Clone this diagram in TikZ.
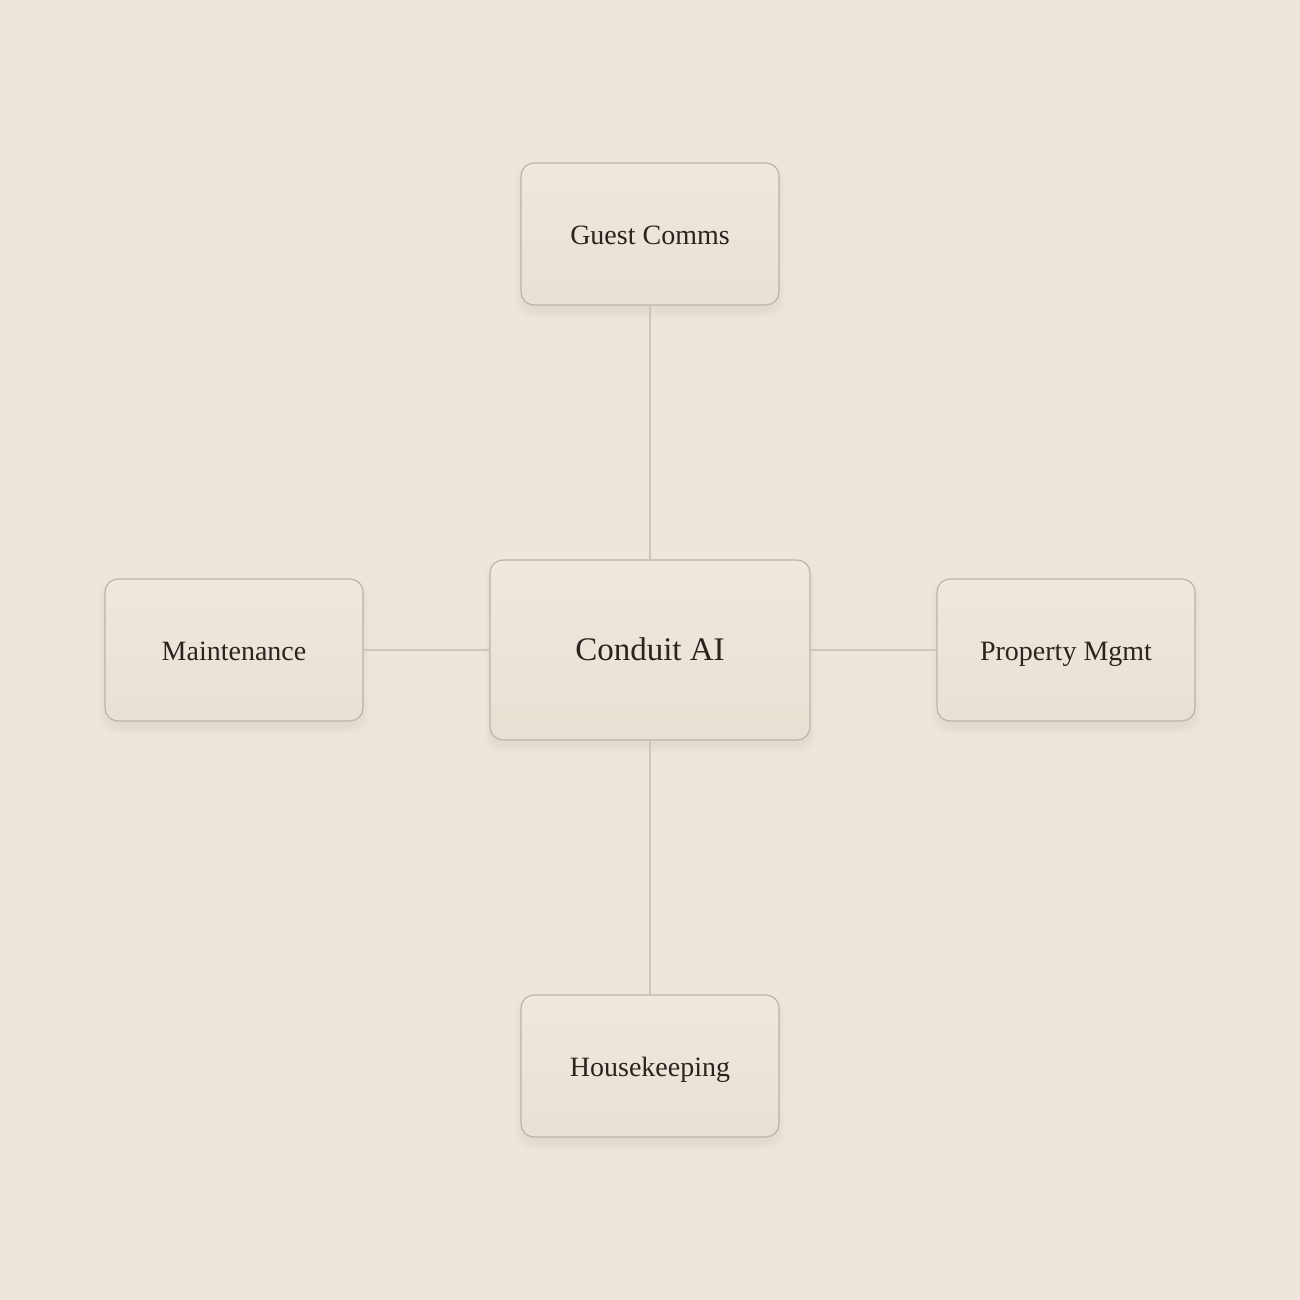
\documentclass[tikz,border=0pt]{standalone}
\usepackage{fontspec}
\setmainfont{Liberation Serif}
\begin{document}
\begin{tikzpicture}[x=0.5pt,y=-0.5pt,
  box/.style={rounded corners=6.5pt, draw=boxline, line width=0.6pt,
    top color=boxtop, bottom color=boxbot, text=ink, inner sep=0pt,
    text height=1.0em, text depth=0pt},
  small/.style={box, minimum width=129pt, minimum height=71pt, font=\fontsize{14}{16}\selectfont},
  big/.style={box, minimum width=160pt, minimum height=90pt, font=\fontsize{16.5}{19}\selectfont},
  link/.style={draw=linkc, line width=0.6pt}
]
\definecolor{bg}{HTML}{EEE5DB}
\definecolor{boxtop}{HTML}{EFE8DE}
\definecolor{boxbot}{HTML}{E9E0D4}
\definecolor{boxline}{HTML}{BDB3A8}
\definecolor{linkc}{HTML}{CFC6BB}
\definecolor{ink}{HTML}{2A241F}
\definecolor{shadowc}{HTML}{C9BEB1}
\fill[bg] (0,0) rectangle (1300,1300);
\useasboundingbox (0,0) rectangle (1300,1300);
% shadows
\foreach \cx/\cy/\w/\h in {650/234/129/71, 234/650/129/71, 1066/650/129/71, 650/1066/129/71, 650/650/160/90}{
  \foreach \s/\o in {6/0.04, 4/0.05, 2/0.07, 0/0.08}{
    \fill[shadowc, opacity=\o, rounded corners=7.5pt]
      (\cx-\w-\s, \cy-\h-\s+7) rectangle (\cx+\w+\s, \cy+\h+\s+7);
  }
}
\node[big]   (core)  at (650,650)  {Conduit AI};
\node[small] (guest) at (650,234)  {Guest Comms};
\node[small] (maint) at (234,650)  {Maintenance};
\node[small] (prop)  at (1066,650) {Property Mgmt};
\node[small] (house) at (650,1066) {Housekeeping};
\draw[link] (core.north) -- (guest.south);
\draw[link] (core.south) -- (house.north);
\draw[link] (core.west) -- (maint.east);
\draw[link] (core.east) -- (prop.west);
\end{tikzpicture}
\end{document}
